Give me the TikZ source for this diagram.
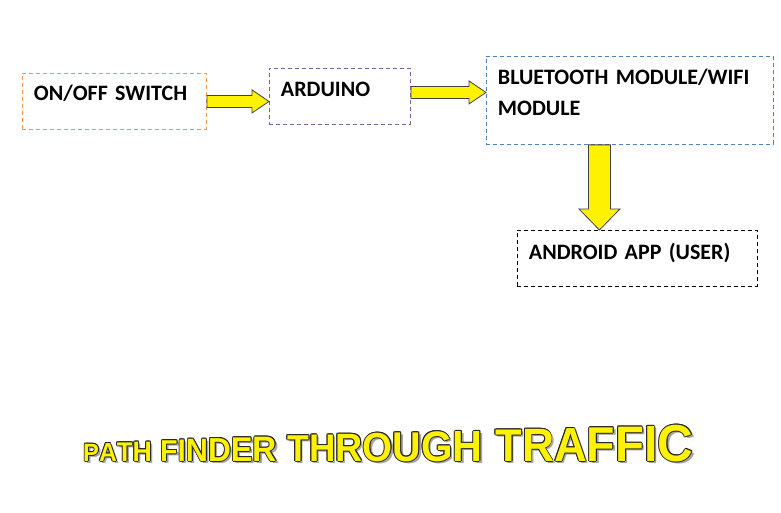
\documentclass[tikz,border=0pt]{standalone}
\usepackage{fontspec}
\setmainfont{Carlito}[WordSpace=0.6]
\newfontfamily\artfont{Liberation Sans}
\usetikzlibrary{calc}

\definecolor{sworange}{HTML}{F79646}
\definecolor{ardpurple}{HTML}{8064A2}
\definecolor{btblue}{HTML}{4F81BD}

\def \gap {\hspace{0.3em}}
\def \titleletters {P,A,T,H,\gap,F,I,N,D,E,R,\gap,T,H,R,O,U,G,H,\gap,T,R,A,F,F,I,C}

\newcommand\artletter[1]{%
  \rlap{\kern2.5pt\raisebox{-2.5pt}{\color{black!35}#1}}%
  \rlap{\kern-1pt\color{black!85}#1}%
  \rlap{\kern1pt\color{black!85}#1}%
  \rlap{\raisebox{1pt}{\color{black!85}#1}}%
  \rlap{\raisebox{-1pt}{\color{black!85}#1}}%
  \rlap{\kern-0.7pt\raisebox{0.7pt}{\color{black!85}#1}}%
  \rlap{\kern0.7pt\raisebox{0.7pt}{\color{black!85}#1}}%
  \rlap{\kern-0.7pt\raisebox{-0.7pt}{\color{black!85}#1}}%
  \rlap{\kern0.7pt\raisebox{-0.7pt}{\color{black!85}#1}}%
  {\color{yellow}#1}}

\begin{document}
\begin{tikzpicture}
   [x=1pt, y=-1pt,
   box/.style={draw, dash pattern=on 4pt off 3pt, line width=0.9pt, anchor=north west,
      align=left, inner xsep=11.5pt, inner ysep=12pt, text height=16pt, text depth=16pt,
      font=\fontsize{22}{31}\selectfont\bfseries},
   blockarrow/.style={draw=black!75, fill=yellow, line width=0.8pt},
   harrow/.style={blockarrow, to path={let \p1=(\tikztostart), \p2=(\tikztotarget) in
      (\x1,\y1+6pt) -- (\x2-17pt,\y1+6pt) -- (\x2-17pt,\y1+11.5pt) -- (\x2,\y1)
      -- (\x2-17pt,\y1-11.5pt) -- (\x2-17pt,\y1-6pt) -- (\x1,\y1-6pt) -- cycle}},
   varrow/.style={blockarrow, to path={let \p1=(\tikztostart), \p2=(\tikztotarget) in
      (\x1-11pt,\y1) -- (\x1-11pt,\y2+21pt) -- (\x1-20.5pt,\y2+21pt) -- (\x1,\y2)
      -- (\x1+20.5pt,\y2+21pt) -- (\x1+11pt,\y2+21pt) -- (\x1+11pt,\y1) -- cycle}},
   title/.style={anchor=base west, inner sep=0pt, font=\artfont\bfseries}]
\useasboundingbox (0,0) rectangle (781,513);

\node[box, draw=sworange, text width=161pt, text height=15pt, text depth=17pt] (sw) at (22,73) {ON/OFF SWITCH};
\node[box, draw=ardpurple, text width=118pt] (ard) at (269,68) {ARDUINO};
\node[box, draw=btblue, text width=264pt, text depth=48pt] (bt) at (486,56) {BLUETOOTH MODULE/WIFI\\MODULE};
\node[box, draw=black, text width=217pt, text height=17pt, text depth=15pt] (app) at (517,230) {ANDROID APP (USER)};

\draw[harrow] (sw.east) to (sw.east -| ard.west);
\draw[harrow] ([yshift=4pt]ard.east) to ([yshift=4pt]ard.east -| bt.west);
\draw[varrow] ([xshift=-30.5pt]bt.south) to ([xshift=-30.5pt]bt.south |- app.north);

\node[title] (ttl) at (83,461) {\scalebox{0.95}[1]{\foreach \letr [count=\i] in \titleletters {%
   \pgfmathsetmacro\sz{25+27*(\i-1)/26}\fontsize{\sz}{\sz}\selectfont\artletter{\letr}}}};
\end{tikzpicture}
\end{document}
